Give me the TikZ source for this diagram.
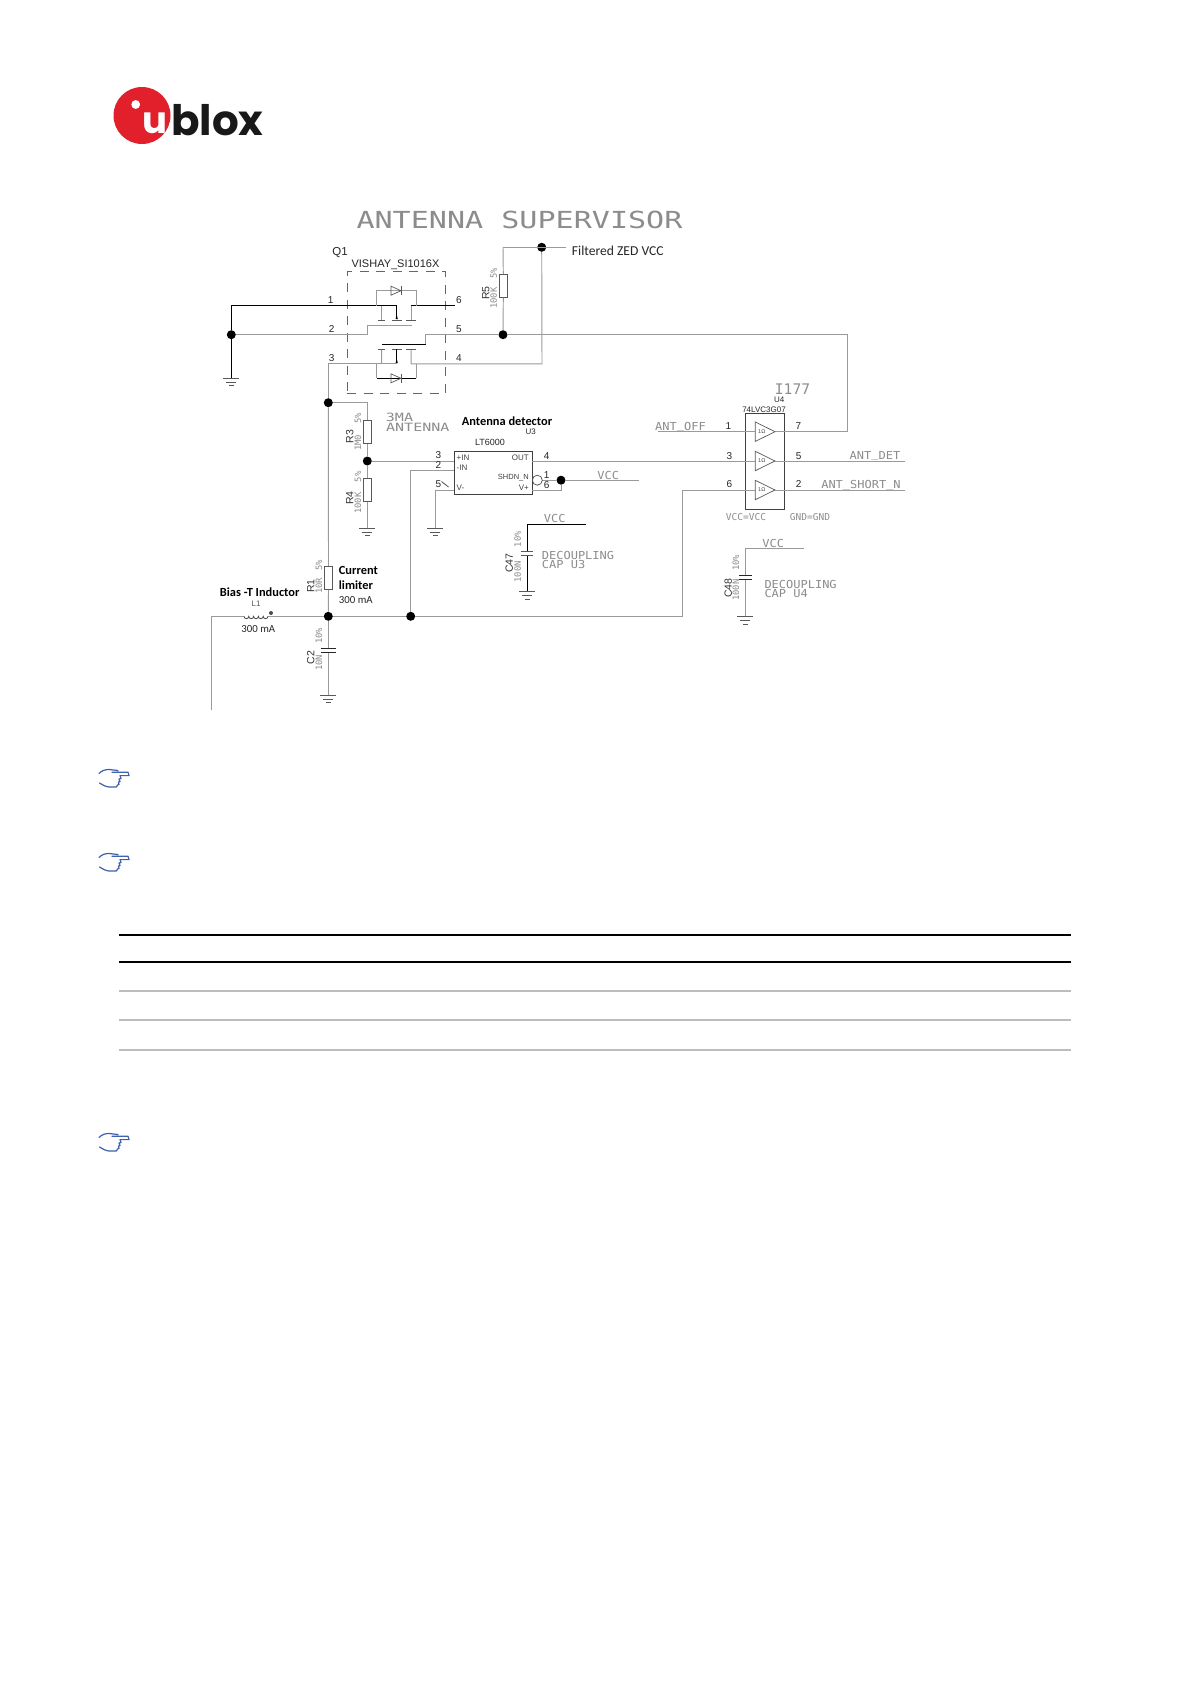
\documentclass[tikz,border=0pt]{standalone}
\usepackage{fontspec}
\setmainfont{Liberation Sans}
\newfontfamily\strokefont{DejaVu Sans Mono}
\newfontfamily\calib{Carlito}
\newfontfamily\logofont{Poppins}
\newcommand{\fsz}[1]{\fontsize{#1}{#1}\selectfont}
\newcommand{\lowbar}{\raisebox{1.8pt}{\_}}
\definecolor{wiregray}{HTML}{9A9A9A}
\definecolor{textgray}{HTML}{8C8C8C}
\definecolor{handblue}{HTML}{3F5FAF}
\definecolor{logored}{HTML}{E2202C}
\definecolor{rulegray}{HTML}{BDBDBD}
\tikzset{
  wire/.style={draw=wiregray,line width=0.95pt},
  bwire/.style={draw=black,line width=0.95pt},
  symb/.style={draw=black!65,line width=0.7pt},
  dot/.style={circle,fill=black,draw=none,minimum size=9pt,inner sep=0pt},
  res/.style={rectangle,draw=black!65,fill=white,line width=0.7pt,minimum width=8.2pt,minimum height=23.2pt,inner sep=0pt},
  stroke12/.style={text=textgray,font=\strokefont\fsz{11},inner sep=0pt,xscale=1.09,transform shape},
  strokesm/.style={text=textgray,font=\strokefont\fsz{9.5},inner sep=0pt},
  val/.style={text=textgray,rotate=90,font=\strokefont\fsz{8.8},inner sep=0pt},
  refd/.style={text=black!80,rotate=90,font=\fsz{10.5},inner sep=0pt},
  pinn/.style={text=black!85,font=\fsz{10},inner sep=0pt},
  chip/.style={text=black!75,font=\fsz{8},inner sep=0pt},
  cal/.style={text=black!85,font=\calib\fsz{13.6},inner sep=0pt,anchor=west},
  calb/.style={text=black,font=\calib\bfseries\fsz{12.4},inner sep=0pt},
  pics/gnd/.style={code={
    \draw[symb] (-8,0) -- (8,0);
    \draw[symb] (-5,4) -- (5,4);
    \draw[symb] (-2.5,7.5) -- (2.5,7.5);
  }},
  pics/bufr/.style={code={
    \draw[symb] (0,-9.7) -- (19.7,0) -- (0,9.7) -- cycle;
    \node[text=black!70,font=\fsz{5.5},inner sep=0pt] at (6.5,0) {1Ω};
  }},
  pics/hand/.style={code={
    \draw[handblue,line width=1.2pt,line cap=round,line join=round]
      (0,4.5) .. controls (3,1.5) and (6,0.5) .. (10,0.5) -- (19,1.5)
      (13,3.2) -- (29,3.2) -- (30,6.6) -- (21,6.6)
      (21,6.6) -- (22,9.5) -- (20,10) (20,10) -- (21,12.5) -- (19.5,13) (19.5,13) -- (20,15.5) -- (18.5,16)
      (18.5,16) -- (17.5,18) -- (10,18) .. controls (6,17.5) and (3,15.5) .. (0.5,14);
  }},
  pics/diodeR/.style={code={
    \draw[symb] (-5,-4.5) -- (5,0) -- (-5,4.5) -- cycle;
    \draw[symb] (5,-4.5) -- (5,4.5);
  }},
}
\begin{document}
\begin{tikzpicture}[x=1pt,y=-1pt]
\useasboundingbox (0,0) rectangle (1191,1684);
\fill[white] (0,0) rectangle (1191,1684);

% --- logo
\fill[logored] (142,115.5) circle (28.5);
\fill[white] (135.7,104.5) circle (4.4);
\node[text=white,font=\logofont\bfseries\fsz{37},inner sep=0pt,anchor=base] (logou) at (155,133.6) {u};
\node[text=black!90,font=\logofont\bfseries\fsz{42},inner sep=0pt,anchor=base west] (logob) at (171,135) {blox};

% --- title
\node[text=textgray,font=\strokefont\fsz{23.5},inner sep=0pt,xscale=1.28,transform shape] (title) at (519.5,220) {ANTENNA SUPERVISOR};

% --- junctions
\node[dot] (jgnd) at (231.3,334.7) {};
\node[dot] (jRfive) at (503,334.7) {};
\node[dot] (jvcc) at (541.7,247.3) {};
\node[dot] (jtop) at (328.3,402.7) {};
\node[dot] (jdiv) at (367.3,461) {};
\node[dot] (jbias) at (328.3,616.3) {};
\node[dot] (jneg) at (410.7,616.3) {};
\node[dot] (jucc) at (561,480.2) {};

% --- named ends
\coordinate (gA) at (231.3,378);
\coordinate (gB) at (367.3,528.3);
\coordinate (gC) at (435.3,528.3);
\coordinate (gD) at (527.3,591.7);
\coordinate (gE) at (328.3,695);
\coordinate (gF) at (745.3,616.7);
\coordinate (qoneg) at (396.7,305.6);
\coordinate (qones) at (376.7,305.6);
\coordinate (qoneo) at (411.2,305.6);
\coordinate (qsix) at (455,305.6);
\coordinate (qtwoa) at (367.5,334.7);
\coordinate (qtwob) at (367.5,325);
\coordinate (qtwoc) at (411.7,325);
\coordinate (qfivea) at (425.5,334.7);
\coordinate (qfiveb) at (425.5,344.3);
\coordinate (qfivec) at (382,344.3);
\coordinate (qthree) at (381.7,363.8);
\coordinate (qfour) at (411.2,363.8);
\coordinate (vccL) at (503,247.3);
\coordinate (vccR) at (565.7,247.3);
\coordinate (supR) at (847.7,334.7);
\coordinate (sevenR) at (847.7,431.7);
\coordinate (biasL) at (211.6,616.3);
\coordinate (biasEnd) at (211.6,710);
\coordinate (turn) at (682.7,616.3);
\coordinate (lA) at (244,616.3);
\coordinate (lB) at (268,616.3);

% --- boxes
\node[draw=black!75,line width=0.8pt,fill=white,minimum width=77.7pt,minimum height=43.3pt,inner sep=0pt] (Uthree) at (493.15,472.65) {};
\node[draw=black!75,line width=0.8pt,minimum width=39pt,minimum height=96pt,inner sep=0pt] (Ufour) at (764.8,461.3) {};
\node[draw=black!60,dash pattern=on 9pt off 7.5pt,line width=0.7pt,minimum width=98.4pt,minimum height=121.6pt,inner sep=0pt] (Qone) at (396.5,332.5) {};

% --- resistors
\node[res] (Rfive) at (503.3,286) {};
\node[res] (Rthree) at (367.3,431.7) {};
\node[res] (Rfour) at (367.3,490) {};
\node[res] (Rone) at (328.5,577.8) {};

% --- wires
\draw[bwire] (gA) -- (jgnd);
\draw[bwire] (jgnd) |- (qoneg) -- ++(0,13.5);
\draw[bwire] (qoneo) -- (qsix);
\draw[wire] (jgnd) -- (qtwoa) -- (qtwob) -- (qtwoc);
\draw[bwire] (qfivec) -- (qfiveb) -- (qfivea);
\draw[wire] (qfiveb) -- (qfivea) -- (jRfive) -- (supR) -- (sevenR) -- (784.3,431.7);
\draw[wire] (vccL) -- (vccR);
\draw[wire] (vccL) -- (Rfive.north);
\draw[wire] (Rfive.south) -- (jRfive);
\draw[wire] (jvcc) -- (542,363.8) -- (qfour);
\draw[wire] (qthree) -- (328.3,363.8) -- (jtop);
\draw[wire] (jtop) -- (Rone.north);
\draw[wire] (Rone.south) -- (jbias);
\draw[wire] (jtop) -| (Rthree.north);
\draw[wire] (Rthree.south) -- (jdiv);
\draw[wire] (jdiv) -- (Rfour.north);
\draw[wire] (Rfour.south) -- (gB);
\draw[wire] (jdiv) -- (454.3,461);
\draw[wire] (532,461) -- (755.3,461);
\draw[wire] (jneg) |- (454.3,470.3);
\draw[wire] (454.3,490) -| (gC);
\draw[wire] (biasEnd) -- (biasL) -- (lA);
\draw[wire] (lB) -- (jbias);
\draw[wire] (jbias) -- (jneg) -- (turn) |- (755.3,490);
\draw[wire] (jbias) -- (328.3,648);
\draw[wire] (328.3,652.3) -- (gE);
\draw[wire] (542.4,480.2) -- (jucc) -- (639.3,480.2);
\draw[wire] (jucc) |- (532,490);
\draw[bwire] (585.7,524.3) -| (527.3,551);
\draw[bwire] (527.3,555.3) -- (gD);
\draw[wire] (804,548) -| (745.3,575.3);
\draw[wire] (745.3,579.7) -- (gF);

% --- inductor
\draw[black!70,line width=0.8pt] (lA) arc[start angle=180,end angle=0,radius=2.4] arc[start angle=180,end angle=0,radius=2.4] arc[start angle=180,end angle=0,radius=2.4] arc[start angle=180,end angle=0,radius=2.4] arc[start angle=180,end angle=0,radius=2.4];
\fill[black!70] (271,613) circle (2);

% --- grounds
\foreach \g in {gA,gB,gC,gD,gE,gF} {\pic at (\g) {gnd};}

% --- capacitor plates
\draw[black!85,line width=1pt] (320.7,648) -- (335.7,648);
\draw[black!85,line width=1pt] (320.7,652.3) -- (335.7,652.3);
\draw[symb] (520.7,551) -- (533.3,551);
\draw[symb] (520.7,555.3) -- (533.3,555.3);
\draw[black!85,line width=1pt] (739.3,575.3) -- (751.7,575.3);
\draw[black!85,line width=1pt] (739.3,579.7) -- (751.7,579.7);

% --- Q1 internals
\draw[wire] (qones) -- (376.7,290.7) -- (416,290.7) -- (416,305.6);
\pic at (396,290.7) {diodeR};
\draw[wire] (381.7,305.6) -- (381.7,320) (411,305.6) -- (411,320);
\draw[symb] (377.5,320) -- (385,320) (392,320) -- (401.5,320) (406,320) -- (416,320);
\fill[black] (395.6,319) -- (396.7,314.5) -- (397.8,319) -- cycle;
\draw[wire] (qthree) -- (381.7,349) (qfour) -- (411,349);
\draw[symb] (377.5,349) -- (385,349) (392,349) -- (401.5,349) (406,349) -- (416,349);
\draw[bwire] (396.7,349) -- (396.7,363.8);
\fill[black] (395.6,363) -- (396.7,358.5) -- (397.8,363) -- cycle;
\draw[wire] (396.7,363.8) -- (381.7,363.8);
\draw[wire] (376.7,363.8) -- (376.7,378.3);
\draw[wire] (416,363.8) -- (416,378.3);
\draw[bwire] (376.7,378.3) -- (416,378.3);
\pic at (396,378.3) {diodeR};

% --- U4 buffers
\foreach \yy in {431.7,461,490} {\pic at (755.3,\yy) {bufr};}
\draw[wire] (658,431.7) -- (755.3,431.7);
\draw[wire] (775,431.7) -- (784.3,431.7);
\draw[wire] (775,461) -- (905,461);
\draw[wire] (775,490) -- (905,490);

% --- U3 details
\node[draw=black!70,line width=0.7pt,circle,minimum size=10pt,inner sep=0pt] (shdn) at (537.3,480.2) {};
\draw[black!70,line width=0.8pt] (441.5,481.5) -- (448.5,487);
\node[chip,anchor=west] at (456.5,458) {+IN};
\node[chip,anchor=west] at (456.5,467.7) {-IN};
\node[chip,anchor=west] at (456.5,487.5) {V-};
\node[chip,anchor=east] at (529,458) {OUT};
\node[chip,anchor=east,font=\fsz{7.5}] at (529,477.3) {SHDN\_N};
\node[chip,anchor=east] at (529,487.5) {V+};

% --- pin numbers
\node[pinn] at (330.7,300) {1};
\node[pinn] at (331.7,328.7) {2};
\node[pinn] at (331.7,358.3) {3};
\node[pinn] at (459,300) {6};
\node[pinn] at (459,328.7) {5};
\node[pinn] at (459,358.3) {4};
\node[pinn] at (438.3,455) {3};
\node[pinn] at (438.3,465.3) {2};
\node[pinn] at (438.3,484) {5};
\node[pinn] at (546.7,455.7) {4};
\node[pinn] at (546.7,474.7) {1};
\node[pinn] at (546.7,484.7) {6};
\node[pinn] at (728.3,426.3) {1};
\node[pinn] at (729.3,455.7) {3};
\node[pinn] at (729.3,484.3) {6};
\node[pinn] at (798.3,426) {7};
\node[pinn] at (798.7,455.7) {5};
\node[pinn] at (798.7,484.3) {2};

% --- part labels
\node[pinn,font=\fsz{11.5}] at (340,252.7) {Q1};
\node[pinn,font=\fsz{11}] at (395.5,264.7) {VISHAY\_SI1016X};
\node[pinn,font=\fsz{9}] at (490,442.7) {LT6000};
\node[pinn,font=\fsz{8}] at (530.7,431.7) {U3};
\node[pinn,font=\fsz{8}] at (779.3,399.7) {U4};
\node[pinn,font=\fsz{8}] at (764,409.3) {74LVC3G07};
\node[text=textgray,font=\strokefont\fsz{14.6},inner sep=0pt] at (792.5,388.7) {I177};
\node[text=textgray,font=\strokefont\fsz{11.4},inner sep=0pt,xscale=1.32,transform shape] at (399.5,417.8) {3MA};
\node[text=textgray,font=\strokefont\fsz{11.4},inner sep=0pt,xscale=1.32,transform shape] at (417.8,427.6) {ANTENNA};

\node[calb] at (507,420.7) {Antenna detector};
\node[calb] at (259.7,592) {Bias -T Inductor};
\node[calb,anchor=west] at (338.7,570.3) {Current};
\node[calb,anchor=west] at (338.7,585) {limiter};
\node[cal,font=\calib\fsz{10.8}] at (338.7,599.7) {300 mA};
\node[cal,font=\calib\fsz{10.8},anchor=center] at (258.3,628.7) {300 mA};
\node[pinn,font=\fsz{8},text=black!65] at (256,604) {L1};
\node[cal] at (571.7,251.2) {Filtered ZED VCC};

\node[stroke12] at (608.3,475.3) {VCC};
\node[stroke12] at (554.7,518.7) {VCC};
\node[stroke12] at (773.3,543.3) {VCC};
\node[stroke12,anchor=west] at (541.7,555) {DECOUPLING};
\node[stroke12,anchor=west] at (541.7,564.6) {CAP U3};
\node[stroke12,anchor=west] at (764.3,584) {DECOUPLING};
\node[stroke12,anchor=west] at (764.3,593.9) {CAP U4};
\node[stroke12] at (680.5,426.7) {ANT\lowbar OFF};
\node[stroke12] at (875,456) {ANT\lowbar DET};
\node[stroke12] at (861,485.3) {ANT\lowbar SHORT\lowbar N};
\node[strokesm] at (746,517) {VCC=VCC};
\node[strokesm] at (810,517) {GND=GND};

% --- rotated values
\node[refd] at (485.7,293) {R5};
\node[val] at (493.7,298) {100K};
\node[val] at (493.7,273) {5\%};
\node[refd] at (349.7,436.7) {R3};
\node[val] at (358,443) {1M0};
\node[val] at (358,418) {5\%};
\node[refd] at (349.7,498) {R4};
\node[val] at (358,503) {100K};
\node[val] at (358,476.7) {5\%};
\node[refd] at (310.7,586) {R1};
\node[val] at (319,586) {10R};
\node[val] at (319,565) {5\%};
\node[refd] at (310.7,657.7) {C2};
\node[val] at (319,663) {10N};
\node[val] at (319,636) {10\%};
\node[refd] at (509.3,563.3) {C47};
\node[val] at (517.7,571.7) {100N};
\node[val] at (517.7,539.3) {10\%};
\node[refd] at (728.3,588.3) {C48};
\node[val] at (736,590) {100N};
\node[val] at (736,563) {10\%};

% --- hands
\pic at (99,769) {hand};
\pic at (99,853) {hand};
\pic at (99,1133) {hand};

% --- table rules
\draw[black,line width=1.8pt] (119,934.7) -- (1071,934.7);
\draw[black,line width=2.2pt] (119,961.7) -- (1071,961.7);
\draw[rulegray,line width=2pt] (119,990.7) -- (1071,990.7);
\draw[rulegray,line width=2pt] (119,1020) -- (1071,1020);
\draw[rulegray,line width=2pt] (119,1049.7) -- (1071,1049.7);
\end{tikzpicture}
\end{document}
